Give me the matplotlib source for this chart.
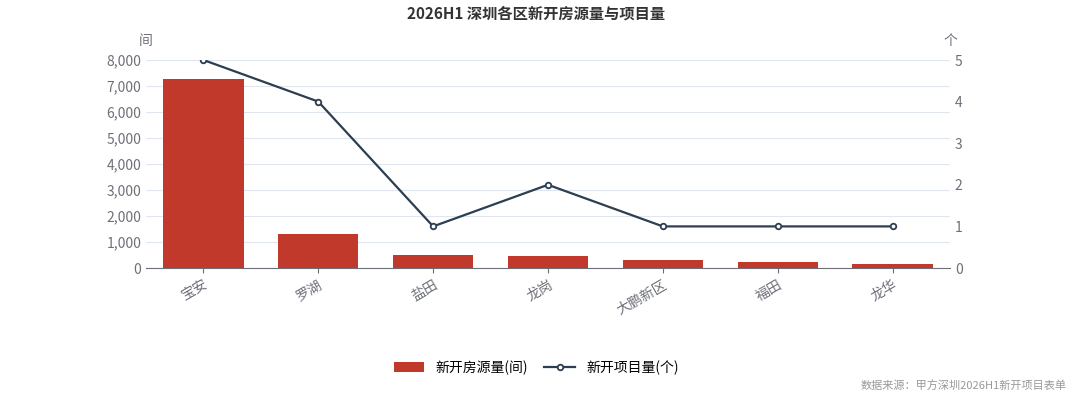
import matplotlib.pyplot as plt
from matplotlib.ticker import FuncFormatter

plt.rcParams['font.family'] = ['Noto Sans CJK SC', 'DejaVu Sans']

districts = ['宝安', '罗湖', '盐田', '龙岗', '大鹏新区', '福田', '龙华']
units = [7250, 1320, 485, 445, 305, 230, 165]
projects = [5, 4, 1, 2, 1, 1, 1]

fig = plt.figure(figsize=(10.72, 4.01), dpi=100)
ax = fig.add_axes([146 / 1072, 1 - 268 / 401, (950 - 146) / 1072, 208 / 401])
x = range(len(districts))
ax.bar(x, units, width=0.7, color='#c0392b', label='新开房源量(间)', zorder=2)
ax.set_ylim(0, 8000)
ax.set_xlim(-0.5, len(districts) - 0.5)
ax.set_yticks(range(0, 8001, 1000))
ax.yaxis.set_major_formatter(FuncFormatter(lambda v, p: f'{int(v):,}'))
ax.grid(axis='y', color='#e0e6f1', lw=0.8, zorder=0)
ax.set_xticks(list(x))
ax.set_xticklabels(districts, rotation=30, ha='right', rotation_mode='anchor')
for s in ['top', 'right', 'left']:
    ax.spines[s].set_visible(False)
ax.spines['bottom'].set_color('#6e7079')
ax.tick_params(axis='y', length=0, colors='#6e7079', labelsize=10)
ax.tick_params(axis='x', colors='#6e7079', labelsize=10)
ax.text(0, 1.07, '间', transform=ax.transAxes, color='#6e7079', fontsize=10, ha='center')

ax2 = ax.twinx()
ax2.plot(x, projects, color='#2c3e50', lw=1.6, marker='o', ms=4,
         mfc='white', mec='#2c3e50', mew=1.3, label='新开项目量(个)', zorder=3)
ax2.set_ylim(0, 5)
ax2.set_yticks(range(0, 6))
for s in ax2.spines.values():
    s.set_visible(False)
ax2.tick_params(axis='y', length=0, colors='#6e7079', labelsize=10)
ax2.text(1, 1.07, '个', transform=ax2.transAxes, color='#6e7079', fontsize=10, ha='center')

fig.suptitle('2026H1 深圳各区新开房源量与项目量', y=0.985, fontsize=11, fontweight='bold', color='#333333')
h1, l1 = ax.get_legend_handles_labels()
h2, l2 = ax2.get_legend_handles_labels()
fig.legend(h1 + h2, l1 + l2, loc='center', bbox_to_anchor=(0.5, 0.083), ncol=2,
           frameon=False, fontsize=10, handlelength=2.2, columnspacing=1.2)
fig.text(0.995, 0.03, '数据来源：甲方深圳2026H1新开项目表单', ha='right', fontsize=8, color='#999999')
fig.savefig('out.png', dpi=100)
